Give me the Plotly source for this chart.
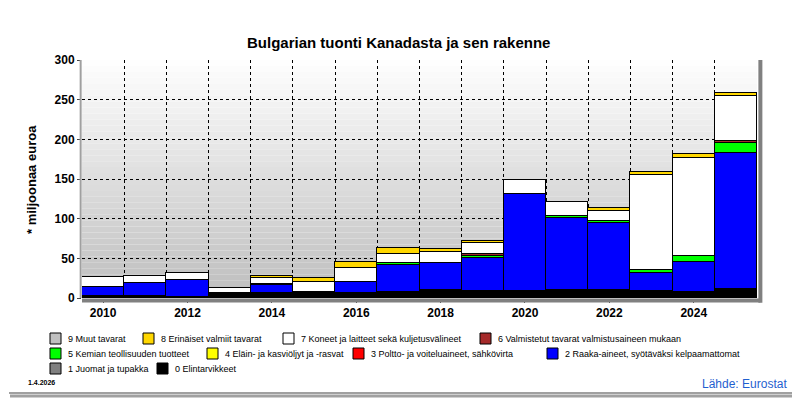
import plotly.graph_objects as go

# Vuodet ja tuontiarvot (milj. euroa) SITC-ryhmittäin
years = list(range(2010, 2026))
food = [2, 2, 1, 6, 6, 6, 6, 8, 10, 9, 9, 10, 10, 9, 8, 11]
drinks = [0] * 16
raw = [12, 17, 22, 0, 10, 0, 14, 34, 34, 41, 122, 91, 85, 22, 37, 172]
fuel = [0] * 16
oils = [0] * 16
chem = [0, 0, 0, 0, 2, 1.5, 0, 1.5, 0, 2.5, 0, 2, 2, 4, 8, 12]
manuf = [0, 0, 0, 0, 0, 0, 0, 0, 0, 2.5, 0, 0, 0, 0, 0, 3]
mach = [12, 9, 9, 7, 7, 12.5, 18, 12, 14, 14, 18, 18, 13, 120, 123, 57]
misc = [0, 0, 0, 0, 3, 5, 7, 7, 4, 2.5, 0, 0, 3, 4, 5, 3]
other = [0] * 16

names = ["0 Elintarvikkeet", "1 Juomat ja tupakka",
         "2 Raaka-aineet, syötäväksi kelpaamattomat",
         "3 Poltto- ja voiteluaineet, sähkövirta",
         "4 Eläin- ja kasviöljyt ja -rasvat", "5 Kemian teollisuuden tuotteet",
         "6 Valmistetut tavarat valmistusaineen mukaan",
         "7 Koneet ja laitteet sekä kuljetusvälineet",
         "8 Erinäiset valmiit tavarat", "9 Muut tavarat"]
series = [food, drinks, raw, fuel, oils, chem, manuf, mach, misc, other]
colors = ["#000000", "#808080", "#0000ff", "#ff0000", "#ffff00",
          "#00ff00", "#a52a2a", "#ffffff", "#ffd700", "#c0c0c0"]

# page body has 8px margin -> shrink figure and shift
O = 8
W, H = 800 - O, 400 - O
L, R, T, B = 82, 757, 60, 298
def px(x): return (x - L) / (R - L)
def py(y): return (B - y) / (B - T)

fig = go.Figure()
for nm, vals, c in zip(names, series, colors):
    fig.add_trace(go.Bar(x=years, y=[v if v else None for v in vals], name=nm,
                         marker=dict(color=c, line=dict(color="black", width=1.5)),
                         showlegend=False))

shapes = []
# gradient background of plot area
n = 40
for i in range(n):
    g = int(255 - (255 - 190) * (i + 0.5) / n)
    shapes.append(dict(type="rect", xref="paper", yref="paper", layer="below",
                       x0=0, x1=1, y0=1 - (i + 1) / n, y1=1 - i / n,
                       fillcolor=f"rgb({g},{g},{g})", line=dict(width=0)))
# plot frame shadow
shapes.append(dict(type="line", xref="paper", yref="paper", x0=1.005, x1=1.005, y0=-0.02, y1=1,
                   line=dict(color="#808080", width=4)))
shapes.append(dict(type="line", xref="paper", yref="paper", x0=0, x1=1.005, y0=-0.01, y1=-0.01,
                   line=dict(color="#808080", width=4)))
shapes.append(dict(type="line", xref="paper", yref="paper", x0=-0.002, x1=-0.002, y0=0, y1=1,
                   line=dict(color="#a0a0a0", width=2)))
# outer frame (right / bottom visible part)
shapes.append(dict(type="line", xref="paper", yref="paper", x0=px(793), x1=px(793), y0=py(393), y1=py(9),
                   line=dict(color="#808080", width=1.5)))
shapes.append(dict(type="line", xref="paper", yref="paper", x0=px(9), x1=px(793), y0=py(393), y1=py(393),
                   line=dict(color="#808080", width=1.5)))
shapes.append(dict(type="line", xref="paper", yref="paper", x0=px(796), x1=px(796), y0=py(396), y1=py(10),
                   line=dict(color="#a0a0a0", width=3)))
shapes.append(dict(type="line", xref="paper", yref="paper", x0=px(10), x1=px(796), y0=py(396), y1=py(396),
                   line=dict(color="#a0a0a0", width=3)))

annotations = []
# legend drawn manually (flow layout as in reference)
leg = [(9, 50, 339), (8, 143, 339), (7, 283, 339), (6, 480, 339),
       (5, 50, 354), (4, 207, 354), (3, 353, 354), (2, 547, 354),
       (1, 50, 369), (0, 157, 369)]
for k, lx, ly in leg:
    shapes.append(dict(type="rect", xref="paper", yref="paper",
                       x0=px(lx), x1=px(lx + 11), y0=py(ly + 5), y1=py(ly - 6),
                       fillcolor=colors[k], line=dict(color="black", width=1)))
    annotations.append(dict(xref="paper", yref="paper", x=px(lx + 16), y=py(ly),
                            text=names[k], showarrow=False, xanchor="left", yanchor="middle",
                            font=dict(size=9, color="black")))

annotations += [
    dict(xref="paper", yref="paper", x=px(398), y=py(42), text="<b>Bulgarian tuonti Kanadasta ja sen rakenne</b>",
         showarrow=False, font=dict(size=15, color="black"), xanchor="center", yanchor="middle"),
    dict(xref="paper", yref="paper", x=px(31), y=py(180), text="<b>* miljoonaa euroa</b>", textangle=-90,
         showarrow=False, font=dict(size=13, color="black"), xanchor="center", yanchor="middle"),
    dict(xref="paper", yref="paper", x=px(26), y=py(382), text="<b>1.4.2026</b>",
         showarrow=False, font=dict(size=7, color="black"), xanchor="left", yanchor="middle"),
    dict(xref="paper", yref="paper", x=px(789), y=py(384), text="Lähde: Eurostat",
         showarrow=False, font=dict(size=12, color="#1f5fd0"), xanchor="right", yanchor="middle"),
]

fig.update_layout(
    width=W, height=H, barmode="stack", bargap=0,
    margin=dict(l=L - O, r=800 - R, t=T - O, b=400 - B),
    paper_bgcolor="white", plot_bgcolor="rgba(0,0,0,0)",
    font=dict(family="Arial, Liberation Sans", color="black"),
    shapes=shapes, annotations=annotations,
    xaxis=dict(range=[2009.5, 2025.5], tickvals=years[::2], ticks="outside", ticklen=4,
               tickfont=dict(size=12, weight="bold"), showgrid=False,
               zeroline=False, showline=False,
               minor=dict(tick0=2009.5, dtick=1, showgrid=True, gridcolor="black",
                          griddash="dot", gridwidth=1)),
    yaxis=dict(range=[0, 300], dtick=50, ticks="outside", ticklen=4,
               tickfont=dict(size=12, weight="bold"),
               showgrid=True, gridcolor="black", griddash="dot", gridwidth=1,
               zeroline=False, showline=False),
)

fig.write_html("out.html")
